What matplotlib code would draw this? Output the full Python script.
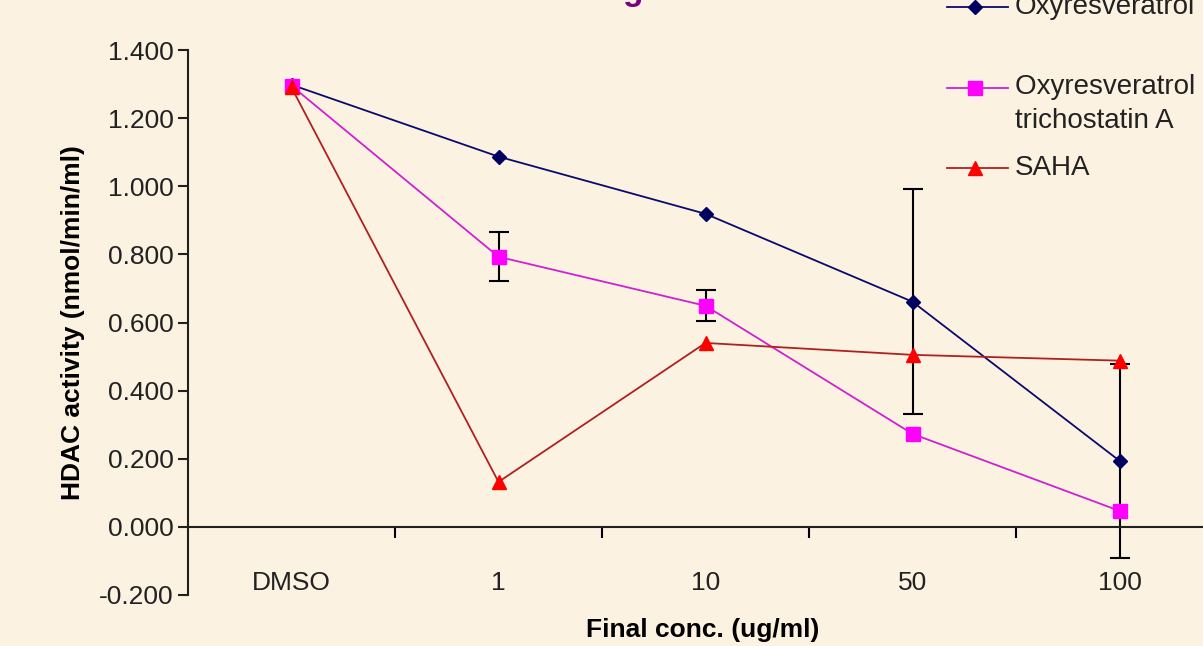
import matplotlib
matplotlib.use("Agg")
import matplotlib.pyplot as plt
import numpy as np

# Donnees
categories = ["DMSO", "1", "10", "50", "100"]

oxy = [1.298, 1.087, 0.919, 0.661, 0.194]
oxy_err = [0.0, 0.0, 0.0, 0.33, 0.285]

oxy_tsa = [1.295, 0.793, 0.649, 0.273, 0.047]
oxy_tsa_err = [0.0, 0.072, 0.045, 0.0, 0.0]

saha = [1.290, 0.132, 0.540, 0.505, 0.488]

legend_labels = ["Oxyresveratrol", "Oxyresveratrol +\ntrichostatin A", "SAHA"]

bg = "#FCF2E2"
plt.rcParams["font.family"] = ["Liberation Sans", "DejaVu Sans"]

fig = plt.figure(figsize=(12.03, 6.46), dpi=100, facecolor=bg)
ax = fig.add_axes([188 / 1203, 51 / 646, 1035 / 1203, 545 / 646])
ax.set_facecolor(bg)

x = np.arange(len(categories))

# barres d'erreur (dessous des marqueurs), seulement la ou il y en a
for vals, errs in [(oxy, oxy_err), (oxy_tsa, oxy_tsa_err)]:
    idx = [i for i, e in enumerate(errs) if e > 0]
    ax.errorbar(x[idx], np.array(vals)[idx], yerr=np.array(errs)[idx], fmt="none",
                ecolor="black", elinewidth=1.5, capsize=7, capthick=1.5, zorder=2)

l1, = ax.plot(x, oxy, color="#0A0A6E", lw=1.3, marker="D", ms=7,
              mfc="#000060", mec="#000060", zorder=3)
l2, = ax.plot(x, oxy_tsa, color="#D020D0", lw=1.3, marker="s", ms=10,
              mfc="#FF00FF", mec="#FF00FF", zorder=3)
l3, = ax.plot(x, saha, color="#B02020", lw=1.3, marker="^", ms=10,
              mfc="#FF0000", mec="#FF0000", zorder=4)

ax.set_xlim(-0.5, 4.5)
ax.set_ylim(-0.2, 1.4)
ax.set_yticks(np.arange(-0.2, 1.41, 0.2))
ax.set_yticklabels([f"{v:.3f}" for v in np.arange(-0.2, 1.41, 0.2)])

# axe x a y=0, graduations entre categories, etiquettes en dessous
ax.spines["bottom"].set_position(("data", 0))
ax.spines["top"].set_visible(False)
ax.spines["right"].set_visible(False)
for s in ["bottom", "left"]:
    ax.spines[s].set_linewidth(1.5)
    ax.spines[s].set_color("#202020")
ax.set_xticks(np.arange(0.5, 4.5, 1.0))
ax.set_xticklabels([])
ax.set_xticks(x, minor=True)
ax.set_xticklabels(categories, minor=True)
ax.tick_params(axis="x", which="major", direction="out", length=8, width=1.5)
ax.tick_params(axis="x", which="minor", length=0, pad=32, labelsize=19, colors="#222222")
ax.tick_params(axis="y", direction="out", length=7, width=1.5, labelsize=19,
               colors="#202020", labelcolor="#222222")

ax.set_ylabel("HDAC activity (nmol/min/ml)", fontsize=19, fontweight="bold", labelpad=10)
fig.text(703 / 1203, 16 / 646, "Final conc. (ug/ml)", fontsize=19, fontweight="bold",
         ha="center", va="center")

# fragment du titre coupe en haut
fig.text(633 / 1203, 1.0, "g", color="#7A0080", fontsize=24, fontweight="bold",
         ha="center", va="baseline")

# legende manuelle (coupee a droite)
leg_y = [7, 88, 168]
for line, lab, yy in zip([l1, l2, l3], legend_labels, leg_y):
    fy = 1 - yy / 646
    fig.add_artist(plt.Line2D([947 / 1203, 1008 / 1203], [fy, fy], transform=fig.transFigure,
                              color=line.get_color(), lw=1.3))
    fig.add_artist(plt.Line2D([975 / 1203], [fy], transform=fig.transFigure,
                              marker=line.get_marker(), ms=line.get_markersize(),
                              mfc=line.get_markerfacecolor(), mec=line.get_markeredgecolor(),
                              lw=0))
    multi = "\n" in lab
    fig.text(1015 / 1203, fy + (0.022 if multi else 0), lab, fontsize=20, color="#222222",
             ha="left", va="top" if multi else "center", linespacing=1.4)

fig.savefig("out.png", dpi=100, facecolor=bg)
